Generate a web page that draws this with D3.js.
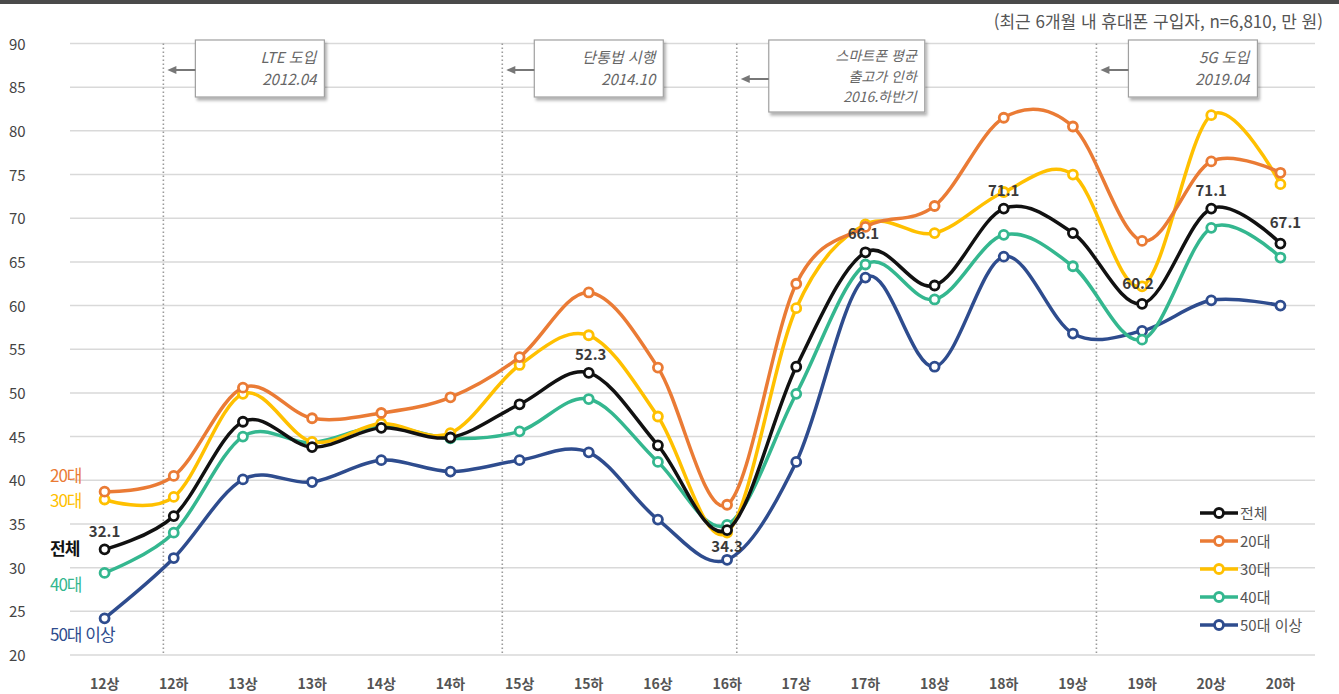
<!DOCTYPE html>
<html lang="ko">
<head>
<meta charset="utf-8">
<script src="https://cdn.jsdelivr.net/npm/d3@7"></script>
<style>
  html, body { margin: 0; padding: 0; background: #fff; }
  svg { display: block; font-family: "Noto Sans CJK KR", "Noto Sans", sans-serif; }
</style>
</head>
<body>
<svg id="chart" width="1339" height="694"></svg>
<script>
// Half-year periods
const periods = ["12상","12하","13상","13하","14상","14하","15상","15하","16상","16하",
                 "17상","17하","18상","18하","19상","19하","20상","20하"];

// Average purchase price (만 원) by age group
const total   = [32.1, 35.9, 46.7, 43.8, 46.0, 44.9, 48.7, 52.3, 44.0, 34.3, 53.0, 66.1, 62.3, 71.1, 68.3, 60.2, 71.1, 67.1];
const age20   = [38.7, 40.5, 50.6, 47.1, 47.7, 49.5, 54.1, 61.5, 52.9, 37.2, 62.5, 69.0, 71.4, 81.5, 80.5, 67.4, 76.5, 75.2];
const age30   = [37.8, 38.1, 49.9, 44.4, 46.5, 45.4, 53.2, 56.6, 47.3, 34.0, 59.7, 69.3, 68.3, 73.0, 75.0, 62.2, 81.8, 73.9];
const age40   = [29.4, 34.0, 45.0, 44.3, 46.2, 44.8, 45.6, 49.3, 42.1, 34.9, 49.9, 64.7, 60.7, 68.1, 64.5, 56.1, 68.9, 65.5];
const age50   = [24.2, 31.1, 40.1, 39.8, 42.3, 41.0, 42.3, 43.2, 35.5, 30.9, 42.1, 63.2, 53.0, 65.6, 56.8, 57.1, 60.6, 60.0];

const seriesNames  = ["전체", "20대", "30대", "40대", "50대 이상"];
const seriesColors = ["#111111", "#EA7B35", "#FFC000", "#34B78F", "#2E4C8E"];
const seriesValues = [total, age20, age30, age40, age50];

const yTicks = [20, 25, 30, 35, 40, 45, 50, 55, 60, 65, 70, 75, 80, 85, 90];

// Periods on which the overall value is printed
const labelledPeriods = ["12상","15하","16하","17하","18하","19하","20상","20하"];

// Market events, placed by fractional period position
const eventPos   = [0.85, 5.75, 9.14, 14.34];
const eventTexts = [["LTE 도입", "2012.04"], ["단통법 시행", "2014.10"],
                    ["스마트폰 평균", "출고가 인하", "2016.하반기"], ["5G 도입", "2019.04"]];

const unitNote = "(최근 6개월 내 휴대폰 구입자, n=6,810, 만 원)";

const svg = d3.select("#chart");
const W = 1339, H = 694;
const plot = { left: 70, right: 1315, top: 43.5, bottom: 655 };

const x = d3.scaleBand().domain(periods).range([plot.left, plot.right]);
const xc = p => x(p) + x.bandwidth() / 2;
const xi = d3.scaleLinear().domain([0, periods.length - 1]).range([xc(periods[0]), xc(periods[periods.length - 1])]);
const y = d3.scaleLinear().domain([20, 90]).range([plot.bottom, plot.top]);

// top rule
svg.append("rect").attr("x", 0).attr("y", 0).attr("width", W).attr("height", 4).attr("fill", "#4a4a4a");

// drop shadow for the event boxes
const defs = svg.append("defs");
const f = defs.append("filter").attr("id", "shadow").attr("x", "-10%").attr("y", "-10%").attr("width", "130%").attr("height", "140%");
f.append("feDropShadow").attr("dx", 2).attr("dy", 3).attr("stdDeviation", 1.5).attr("flood-color", "#000").attr("flood-opacity", 0.3);

// gridlines
svg.append("g").selectAll("line").data(yTicks).join("line")
  .attr("x1", plot.left).attr("x2", plot.right)
  .attr("y1", d => y(d)).attr("y2", d => y(d))
  .attr("stroke", "#d9d9d9").attr("stroke-width", 1.5);

// y tick labels
svg.append("g").selectAll("text").data(yTicks).join("text")
  .attr("x", 9).attr("y", d => y(d) + 6)
  .attr("font-size", 15).attr("fill", "#444")
  .text(d => d);

// x tick labels
svg.append("g").selectAll("text").data(periods).join("text")
  .attr("x", d => xc(d)).attr("y", 689)
  .attr("text-anchor", "middle").attr("font-size", 14).attr("font-weight", "bold").attr("fill", "#555")
  .text(d => d);

// event markers
const ev = svg.append("g");
ev.selectAll("line").data(eventPos).join("line")
  .attr("x1", d => xi(d)).attr("x2", d => xi(d))
  .attr("y1", plot.top).attr("y2", plot.bottom)
  .attr("stroke", "#9a9a9a").attr("stroke-width", 1.6).attr("stroke-dasharray", "1.5,2.5");

const boxW = [129, 129, 156, 129];
eventPos.forEach((p, i) => {
  const bx = xi(p) + 32, by = 40;
  const lines = eventTexts[i];
  const three = lines.length === 3;
  const bh = three ? 72 : 57;
  const fs = three ? 14 : 15;
  const lh = three ? 20.5 : 22;
  const g = ev.append("g");
  g.append("rect").attr("x", bx).attr("y", by).attr("width", boxW[i]).attr("height", bh)
    .attr("fill", "#fff").attr("stroke", "#a0a0a0").attr("stroke-width", 1.2).attr("filter", "url(#shadow)");
  const ay = three ? by + 39 : by + 30;
  g.append("line").attr("x1", bx).attr("x2", xi(p) + 10).attr("y1", ay).attr("y2", ay)
    .attr("stroke", "#777").attr("stroke-width", 2);
  g.append("path").attr("d", `M${xi(p) + 4},${ay} l9,-4 l0,8 z`).attr("fill", "#777");
  g.selectAll("text").data(lines).join("text")
    .attr("x", bx + boxW[i] - 8).attr("y", (d, j) => by + (three ? 21 : 23) + j * lh)
    .attr("text-anchor", "end").attr("font-size", fs).attr("font-style", "italic").attr("fill", "#666")
    .text(d => d);
});

// unit note
svg.append("text").attr("x", 1323).attr("y", 28).attr("text-anchor", "end")
  .attr("font-size", 17).attr("fill", "#555").text(unitNote);

// series lines and markers (drawn so the overall line sits on top)
const line = d3.line().x((d, i) => xc(periods[i])).y(d => y(d)).curve(d3.curveCatmullRom.alpha(0));
const drawOrder = [4, 3, 2, 1, 0];
const sg = svg.append("g");
drawOrder.forEach(k => {
  const g = sg.append("g");
  g.append("path").datum(seriesValues[k]).attr("d", line)
    .attr("fill", "none").attr("stroke", seriesColors[k]).attr("stroke-width", 3.5);
  g.selectAll("circle").data(seriesValues[k]).join("circle")
    .attr("cx", (d, i) => xc(periods[i])).attr("cy", d => y(d)).attr("r", 4.5)
    .attr("fill", "#fff").attr("stroke", seriesColors[k]).attr("stroke-width", 2.8);
});

// overall value labels
const labelOffsets = {
  "12상": [0, -12], "15하": [2, -13], "16하": [0, 22], "17하": [-2, -13],
  "18하": [0, -13], "19하": [-4, -15], "20상": [0, -13], "20하": [5, -16]
};
svg.append("g").selectAll("text").data(labelledPeriods).join("text")
  .attr("x", d => xc(d) + labelOffsets[d][0])
  .attr("y", d => y(total[periods.indexOf(d)]) + labelOffsets[d][1])
  .attr("text-anchor", "middle").attr("font-size", 15).attr("font-weight", "bold").attr("fill", "#3a3a3a")
  .text(d => total[periods.indexOf(d)].toFixed(1));

// series names at the start of each line
const startLabelY = [555, 482, 507, 591, 641];
svg.append("g").selectAll("text").data(seriesNames).join("text")
  .attr("x", 50).attr("y", (d, i) => startLabelY[i])
  .attr("font-size", 17).attr("font-weight", (d, i) => i === 0 ? "bold" : "normal")
  .attr("fill", (d, i) => seriesColors[i])
  .attr("letter-spacing", -1)
  .text(d => d);

// legend
const lg = svg.append("g").attr("transform", "translate(1200,513)");
seriesNames.forEach((n, i) => {
  const row = lg.append("g").attr("transform", `translate(0,${i * 28})`);
  row.append("line").attr("x1", 0).attr("x2", 38).attr("y1", 0).attr("y2", 0)
    .attr("stroke", seriesColors[i]).attr("stroke-width", 3.5);
  row.append("circle").attr("cx", 19).attr("cy", 0).attr("r", 4.5)
    .attr("fill", "#fff").attr("stroke", seriesColors[i]).attr("stroke-width", 2.8);
  row.append("text").attr("x", 40).attr("y", 6).attr("font-size", 15).attr("fill", "#555").text(n);
});
</script>
</body>
</html>
